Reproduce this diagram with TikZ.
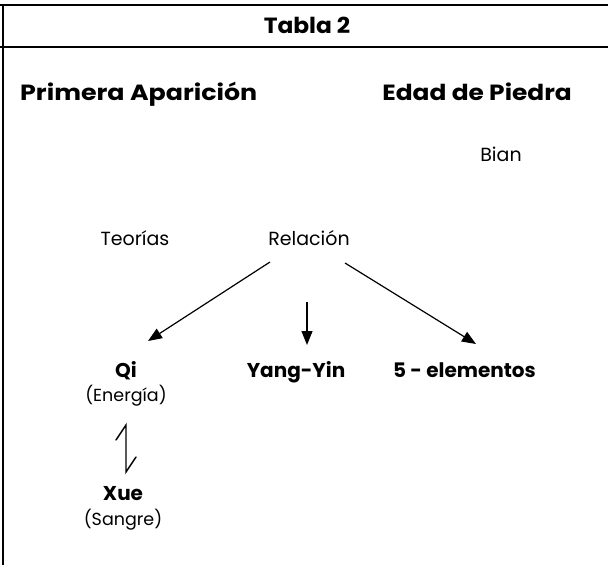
\documentclass[tikz,border=0pt]{standalone}
\usepackage{fontspec}
\usepackage{graphicx}
\setmainfont{Poppins}
\usetikzlibrary{arrows.meta}
\newcommand{\widetxt}[2]{\scalebox{#1}[1]{#2}}
\tikzset{
  head/.style={font=\fontsize{22}{26}\selectfont\bfseries, inner sep=0pt, anchor=base},
  bold/.style={font=\fontsize{20}{24}\selectfont\bfseries, inner sep=0pt, anchor=base},
  lbl/.style={font=\fontsize{19}{22}\selectfont, inner sep=0pt, anchor=base},
  sub/.style={font=\fontsize{17.5}{20}\selectfont, inner sep=0pt, anchor=base},
  frame/.style={line width=2pt},
  arr/.style={line width=1.2pt, -{Triangle[length=14pt,width=11pt]}},
  harp/.style={line width=1.4pt, line cap=round, line join=miter}
}
\begin{document}
\begin{tikzpicture}[x=1pt,y=-1pt]
\useasboundingbox (0,0) rectangle (608,565);
% frame
\coordinate (tl) at (0,5);
\coordinate (tr) at (608,5);
\coordinate (bl) at (0,47);
\coordinate (br) at (608,47);
\coordinate (vl1) at (3,5);
\coordinate (vl2) at (3,565);
\draw[frame] (tl) -- (tr);
\draw[frame] (bl) -- (br);
\draw[line width=1.6pt] (vl1) -- (vl2);
\node[head] (title) at (307,33) {\widetxt{1.06}{Tabla 2}};
% headings
\node[head, anchor=base west] (prim) at (20,100) {\widetxt{1.15}{Primera Aparición}};
\node[head, anchor=base east] (edad) at (572,100) {\widetxt{1.13}{Edad de Piedra}};
\node[lbl] (bian) at (501,161) {Bian};
\node[lbl] (teo) at (135,245) {Teorías};
\node[lbl] (rel) at (309,245) {Relación};
% lower row
\node[head, font=\fontsize{20}{24}\selectfont\bfseries] (qi) at (126,377) {Qi};
\node[sub] (ener) at (126,401) {(Energía)};
\node[bold] (yy) at (296,377) {Yang-Yin};
\node[bold, anchor=base west] (five) at (393,377) {5 - elementos};
\node[bold] (xue) at (123,500) {Xue};
\node[sub] (sang) at (123,525) {(Sangre)};
% arrows
\coordinate (a1s) at (270,262);
\coordinate (a1e) at (148,341);
\coordinate (a2s) at (307,302);
\coordinate (a2e) at (307,345);
\coordinate (a3s) at (345,263);
\coordinate (a3e) at (476,344);
\draw[arr] (a1s) -- (a1e);
\draw[arr] (a2s) -- (a2e);
\draw[arr] (a3s) -- (a3e);
% Qi <-> Xue harpoon pair
\coordinate (hb1) at (116,440);
\coordinate (ht) at (126,425);
\coordinate (hb) at (126,472);
\coordinate (hb2) at (136,457);
\draw[harp] (hb1) -- (ht) -- (hb) -- (hb2);
\end{tikzpicture}
\end{document}
